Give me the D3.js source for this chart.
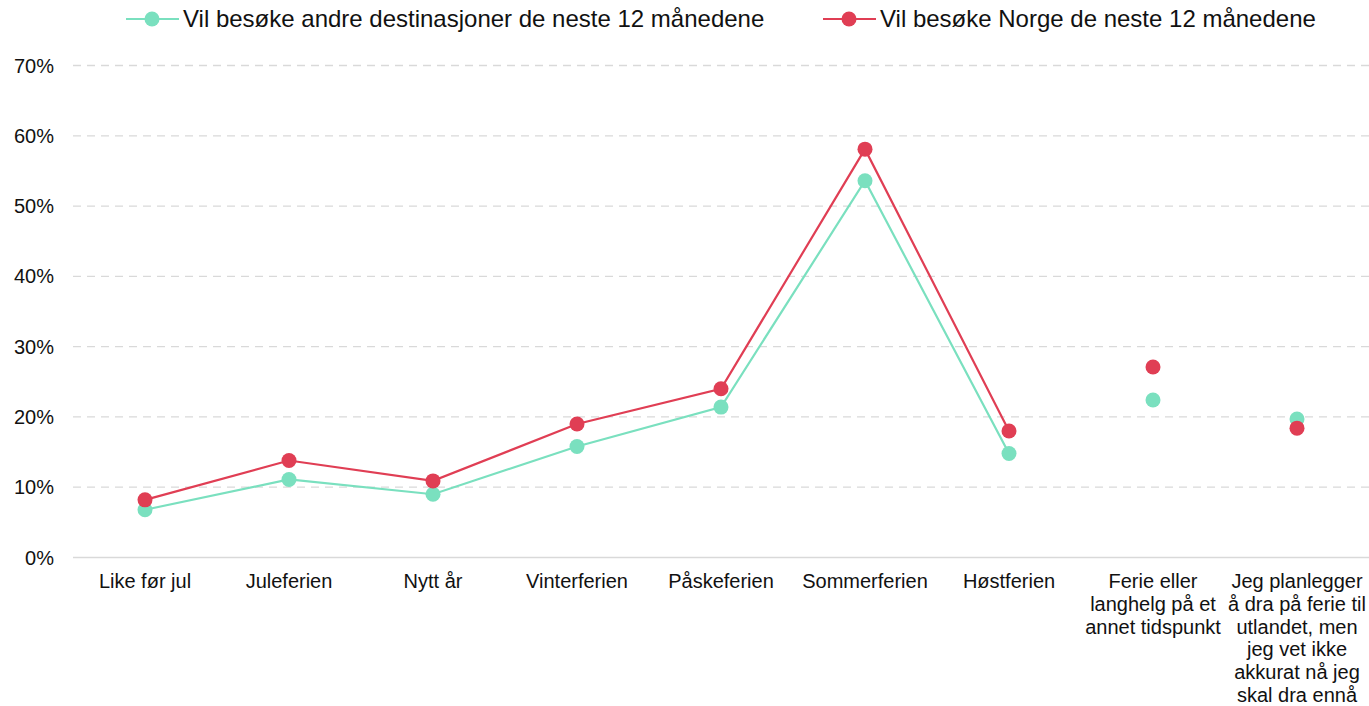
<!DOCTYPE html>
<html>
<head>
<meta charset="utf-8">
<script src="https://cdn.jsdelivr.net/npm/d3@7"></script>
<style>
  body { margin: 0; background: #fff; }
  svg { font-family: 'Liberation Sans', Arial, sans-serif; }
</style>
</head>
<body>
<svg id="svg" width="1369" height="706"></svg>
<script>
const categories = ['Like før jul', 'Juleferien', 'Nytt år', 'Vinterferien', 'Påskeferien', 'Sommerferien', 'Høstferien',
  'Ferie eller langhelg på et annet tidspunkt',
  'Jeg planlegger å dra på ferie til utlandet, men jeg vet ikke akkurat nå jeg skal dra ennå']
const labelLines = [
  ['Like før jul'], ['Juleferien'], ['Nytt år'], ['Vinterferien'], ['Påskeferien'], ['Sommerferien'], ['Høstferien'],
  ['Ferie eller', 'langhelg på et', 'annet tidspunkt'],
  ['Jeg planlegger', 'å dra på ferie til', 'utlandet, men', 'jeg vet ikke', 'akkurat nå jeg', 'skal dra ennå']
]
const andre = [6.8, 11.1, 9.0, 15.8, 21.4, 53.6, 14.8, 22.4, 19.7]
const norge = [8.2, 13.8, 10.9, 19.0, 24.0, 58.1, 18.0, 27.1, 18.4]
const connected = 7 // first 7 categories are joined by lines
const yTicks = [0, 10, 20, 30, 40, 50, 60, 70]

const series = [
  { name: 'Vil besøke andre destinasjoner de neste 12 månedene', values: andre, colour: '#7ae0bf' },
  { name: 'Vil besøke Norge de neste 12 månedene', values: norge, colour: '#e03e54' }
]

const svg = d3.select('#svg')

const xScale = d3.scaleBand()
  .domain(categories)
  .range([73, 1369])

const yScale = d3.scaleLinear()
  .domain([0, 70])
  .range([557.5, 65.5])

const cx = d => xScale(d) + xScale.bandwidth() / 2

// gridlines
svg.append('g')
  .selectAll('line')
  .data(yTicks.filter(t => t > 0))
  .enter()
  .append('line')
  .attr('x1', 73)
  .attr('x2', 1369)
  .attr('y1', d => yScale(d))
  .attr('y2', d => yScale(d))
  .attr('stroke', '#d9d9d9')
  .attr('stroke-width', 1.3)
  .attr('stroke-dasharray', '8,6')

// base axis line
svg.append('line')
  .attr('x1', 73)
  .attr('x2', 1369)
  .attr('y1', yScale(0))
  .attr('y2', yScale(0))
  .attr('stroke', '#d9d9d9')
  .attr('stroke-width', 1.3)

// y tick labels
svg.append('g')
  .selectAll('text')
  .data(yTicks)
  .enter()
  .append('text')
  .text(d => d + '%')
  .attr('x', 54)
  .attr('y', d => yScale(d))
  .attr('dy', '0.35em')
  .attr('text-anchor', 'end')
  .style('font-size', '20px')
  .attr('fill', '#111')

// x labels
const xl = svg.append('g')
  .selectAll('text')
  .data(categories)
  .enter()
  .append('text')
  .attr('x', d => cx(d))
  .attr('y', 588)
  .attr('text-anchor', 'middle')
  .style('font-size', '20px')
  .attr('fill', '#111')

xl.selectAll('tspan')
  .data((d, i) => labelLines[i])
  .enter()
  .append('tspan')
  .attr('x', function () { return d3.select(this.parentNode).attr('x') })
  .attr('dy', (d, i) => i === 0 ? 0 : 22.8)
  .text(d => d)

// lines and points
const line = d3.line()
  .x(d => cx(d.cat))
  .y(d => yScale(d.v))

series.forEach(s => {
  const pts = categories.map((c, i) => ({ cat: c, v: s.values[i] }))
  svg.append('path')
    .attr('d', line(pts.slice(0, connected)))
    .attr('fill', 'none')
    .attr('stroke', s.colour)
    .attr('stroke-width', 2.2)
  s.pts = pts
})

series.forEach(s => {
  svg.append('g')
    .selectAll('circle')
    .data(s.pts)
    .enter()
    .append('circle')
    .attr('cx', d => cx(d.cat))
    .attr('cy', d => yScale(d.v))
    .attr('r', 7.5)
    .attr('fill', s.colour)
})

// legend
const legendX = [126, 823]
series.forEach((s, i) => {
  const g = svg.append('g').attr('transform', `translate(${legendX[i]},19)`)
  g.append('line')
    .attr('x1', 0).attr('x2', 53)
    .attr('stroke', s.colour)
    .attr('stroke-width', 2.2)
  g.append('circle')
    .attr('cx', 26).attr('r', 7.5)
    .attr('fill', s.colour)
  g.append('text')
    .text(s.name)
    .attr('x', 57)
    .attr('dy', '0.35em')
    .style('font-size', '24px')
    .attr('fill', '#111')
})
</script>
</body>
</html>
